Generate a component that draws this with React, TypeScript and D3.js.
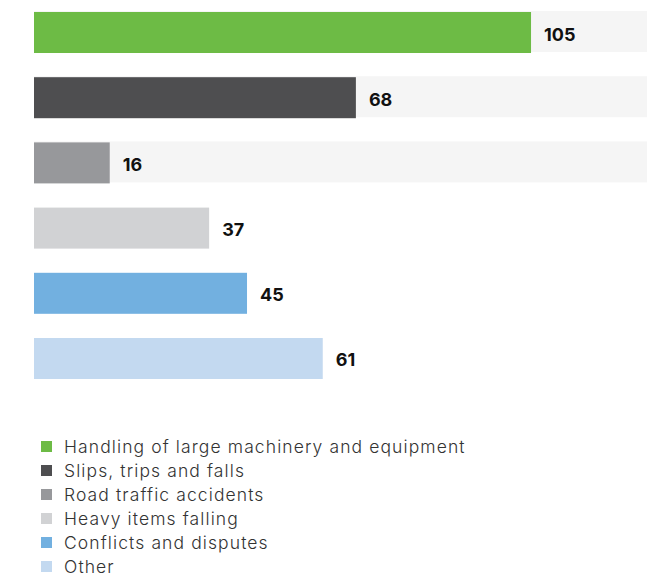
import React from 'react';
import * as d3 from 'd3';

const categories = [
  'Handling of large machinery and equipment',
  'Slips, trips and falls',
  'Road traffic accidents',
  'Heavy items falling',
  'Conflicts and disputes',
  'Other',
];
const values = [105, 68, 16, 37, 45, 61];
const colors = ['#6dbb45', '#4e4e50', '#97989b', '#d1d2d4', '#72b0e0', '#c3d9f0'];
// only the top three rows show the grey track behind the bar
const hasTrack = [true, true, true, false, false, false];
const trackMax = 129.5;

const width = 664;
const height = 574;

const App: React.FC = () => {
  const x = d3.scaleLinear().domain([0, trackMax]).range([34, 647]);
  const y = d3
    .scaleBand<string>()
    .domain(categories)
    .range([12, 379])
    .paddingInner(0.371)
    .paddingOuter(0);

  const legendY = d3
    .scalePoint<string>()
    .domain(categories)
    .range([441, 441 + 24 * (categories.length - 1)]);

  return (
    <svg
      width={width}
      height={height}
      style={{ position: 'absolute', left: 0, top: 0, background: '#fff' }}
    >
      {categories.map((c, i) => {
        const y0 = y(c) as number;
        const bw = y.bandwidth();
        return (
          <g key={c}>
            {hasTrack[i] && (
              <rect x={x(0)} y={y0 - 1} width={x(trackMax) - x(0)} height={bw} fill="#f5f5f5" />
            )}
            <rect x={x(0)} y={y0} width={x(values[i]) - x(0)} height={bw} fill={colors[i]} />
            <text
              x={x(values[i]) + 13}
              y={y0 + bw / 2 + 8}
              fontFamily="Inter, 'Open Sans', sans-serif"
              fontWeight={700}
              fontSize={18}
              fill="#111"
            >
              {values[i]}
            </text>
          </g>
        );
      })}
      {categories.map((c, i) => {
        const ly = legendY(c) as number;
        return (
          <g key={'lg' + c}>
            <rect x={41} y={ly} width={11} height={11} fill={colors[i]} />
            <text
              x={64}
              y={ly + 11.5}
              fontFamily="Inter, 'Open Sans', sans-serif"
              fontWeight={300}
              fontSize={17.5}
              letterSpacing={1.1}
              fill="#333"
            >
              {c}
            </text>
          </g>
        );
      })}
    </svg>
  );
};

export default App;
